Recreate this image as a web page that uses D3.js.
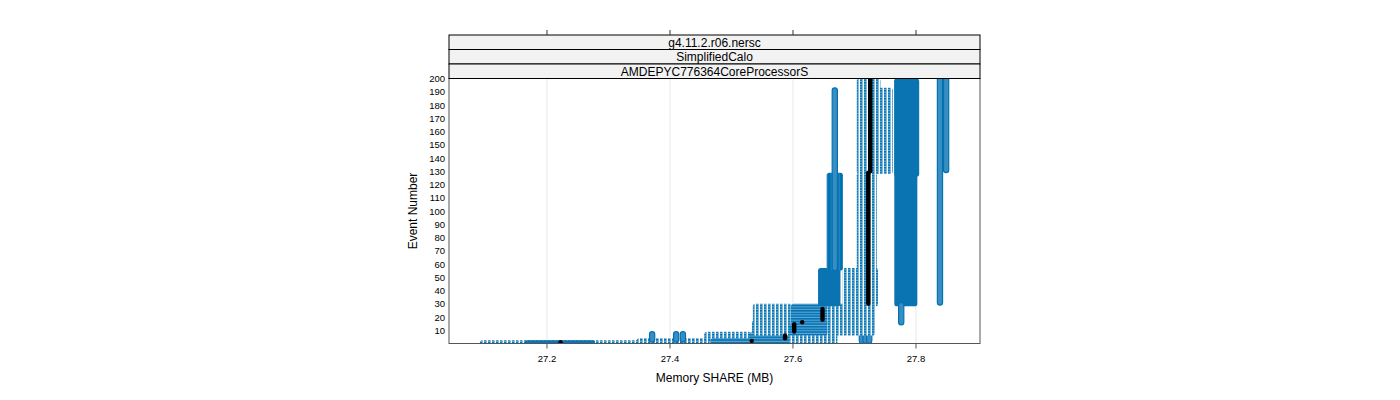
<!DOCTYPE html>
<html><head><meta charset="utf-8">
<script src="https://cdn.jsdelivr.net/npm/d3@7"></script>
<style>body{margin:0;background:#fff;} svg{display:block;font-family:"Liberation Sans",Arial,sans-serif;}</style>
</head><body>
<svg id="c" width="1400" height="400"></svg>
<script>
// ---- data ----
const stripLabels = ["g4.11.2.r06.nersc", "SimplifiedCalo", "AMDEPYC776364CoreProcessorS"];
const xTicks = [27.2, 27.4, 27.6, 27.8];
const yTicks = [10,20,30,40,50,60,70,80,90,100,110,120,130,140,150,160,170,180,190,200];
// blue point clusters: memory range (MB) x event range, and how densely packed
const blockX0 = [27.095,27.168,27.35, 27.371,27.41,27.421, 27.46, 27.47, 27.534,27.598, 27.712,27.718,27.724,
                 27.537,27.598,27.661, 27.539,27.601,27.661, 27.645,27.685, 27.659,27.668,27.708, 27.708,27.74,
                 27.769,27.769,27.776, 27.839,27.849];
const blockX1 = [27.345,27.274,27.46, 27.371,27.41,27.421, 27.527,27.53, 27.59, 27.668, 27.712,27.718,27.724,
                 27.592,27.652,27.729, 27.594,27.652,27.729, 27.673,27.734, 27.677,27.668,27.732, 27.738,27.758,
                 27.798,27.801,27.776, 27.839,27.849];
const blockE0 = [0.5,0.5,1, 3,3,3, 3,1,1,1, 2,2,2,
                 8,8,8, 16,16,16, 30,30, 57,57,30, 130,130,
                 30,128,16, 31,131];
const blockE1 = [0.5,0.5,2, 7,7,7, 7,2,7,7, 6,6,6,
                 15,15,15, 28,28,28, 55,55, 127,191,127, 198,191,
                 198,198,29, 200,199];
const blockKind = ["sparse","solid","sparse", "col","col","col", "sparse","dense","dense","sparse", "col","col","col",
                   "sparse","dense","sparse", "sparse","dense","sparse", "solid","sparse", "vcol","col","sparse", "sparse","sparse",
                   "solid","solid","col", "col","col"];
// black series (single run): memory value held over an event range
const runX  = [27.222, 27.533, 27.587, 27.602, 27.615, 27.648, 27.7224, 27.7256];
const runE0 = [1, 2, 4, 9, 16, 18, 30, 130];
const runE1 = [1, 2, 6, 14.5, 16, 26, 129, 200];

// ---- layout ----
const svg = d3.select("#c");
const L = 449, R = 980, T = 78.5, B = 343.5;
const x = d3.scaleLinear().domain([27.0407, 27.9041]).range([L, R]);
const y = d3.scaleLinear().domain([0, 200]).range([B, T]);
const rad = 2.6;

const defs = svg.append("defs");
const pS = defs.append("pattern").attr("id","sparse").attr("patternUnits","userSpaceOnUse")
  .attr("width",4).attr("height",2.65);
pS.append("rect").attr("width",4).attr("height",2.65).attr("fill","#fff");
pS.append("rect").attr("width",2.5).attr("height",2.65).attr("fill","#0072B2");
pS.append("rect").attr("y",1.6).attr("width",2.5).attr("height",0.8).attr("fill","#9cc8e6");
const pD = defs.append("pattern").attr("id","dense").attr("patternUnits","userSpaceOnUse")
  .attr("width",4).attr("height",2.65);
pD.append("rect").attr("width",4).attr("height",2.65).attr("fill","#0072B2");
pD.append("rect").attr("y",1.6).attr("width",4).attr("height",0.9).attr("fill","#74b2dc");
const pV = defs.append("pattern").attr("id","vcol").attr("patternUnits","userSpaceOnUse")
  .attr("width",4).attr("height",2.65);
pV.append("rect").attr("width",4).attr("height",2.65).attr("fill","#0072B2");
pV.append("rect").attr("x",2.8).attr("width",0.7).attr("height",2.65).attr("fill","#3f91c8");
defs.append("clipPath").attr("id","clip").append("rect")
  .attr("x",L).attr("y",T).attr("width",R-L).attr("height",B-T);

// grid
svg.append("g").selectAll("line").data(xTicks).join("line")
  .attr("x1",d=>x(d)).attr("x2",d=>x(d)).attr("y1",T).attr("y2",B)
  .attr("stroke","#e8e8e8").attr("stroke-width",1);

const g = svg.append("g").attr("clip-path","url(#clip)");
const idx = d3.range(blockX0.length);
const fills = {sparse:"url(#sparse)", dense:"url(#dense)", vcol:"url(#vcol)", col:"#3a8dc3", solid:"#0a73b2"};
g.selectAll("rect.blk").data(idx).join("rect").attr("class","blk")
  .attr("x",i=>x(blockX0[i])-rad).attr("width",i=>x(blockX1[i])-x(blockX0[i])+2*rad)
  .attr("y",i=>y(blockE1[i])-rad).attr("height",i=>y(blockE0[i])-y(blockE1[i])+2*rad)
  .attr("rx",rad).attr("ry",rad)
  .attr("fill",i=>fills[blockKind[i]])
  .attr("stroke",i=>blockKind[i]==="col"?"#0072B2":"none").attr("stroke-width",1.2);

g.selectAll("line.run").data(d3.range(runX.length)).join("line").attr("class","run")
  .attr("x1",i=>x(runX[i])).attr("x2",i=>x(runX[i]))
  .attr("y1",i=>y(runE0[i])).attr("y2",i=>y(runE1[i]))
  .attr("stroke","#000").attr("stroke-width",4.4).attr("stroke-linecap","round");

// panel border
svg.append("rect").attr("x",L).attr("y",T).attr("width",R-L).attr("height",B-T)
  .attr("fill","none").attr("stroke","#555").attr("stroke-width",1);

// strips
const sh = 14.5;
stripLabels.forEach((s,i)=>{
  const top = T - (3-i)*sh;
  svg.append("rect").attr("x",L).attr("y",top).attr("width",R-L).attr("height",sh)
    .attr("fill","#f2f2f2").attr("stroke","#000").attr("stroke-width",1);
  svg.append("text").attr("x",(L+R)/2).attr("y",top+sh/2+4.3).attr("text-anchor","middle")
    .attr("font-size",12).attr("fill","#000").text(s);
});
// top ticks
svg.append("g").selectAll("line").data(xTicks).join("line")
  .attr("x1",d=>x(d)).attr("x2",d=>x(d)).attr("y1",T-3*sh).attr("y2",T-3*sh-5)
  .attr("stroke","#333");
// bottom ticks + labels
svg.append("g").selectAll("line").data(xTicks).join("line")
  .attr("x1",d=>x(d)).attr("x2",d=>x(d)).attr("y1",B).attr("y2",B+5)
  .attr("stroke","#555");
svg.append("g").selectAll("text").data(xTicks).join("text")
  .attr("x",d=>x(d)).attr("y",B+18).attr("text-anchor","middle").attr("font-size",9.5)
  .text(d=>d3.format(".1f")(d));
// y labels
svg.append("g").selectAll("text").data(yTicks).join("text")
  .attr("x",L-4).attr("y",d=>y(d)+3.5).attr("text-anchor","end").attr("font-size",9.5)
  .text(d=>d);
// titles
svg.append("text").attr("x",(L+R)/2).attr("y",382).attr("text-anchor","middle")
  .attr("font-size",12).text("Memory SHARE (MB)");
svg.append("text").attr("transform",`translate(417,${(T+B)/2}) rotate(-90)`)
  .attr("text-anchor","middle").attr("font-size",12).text("Event Number");
</script>
</body></html>
